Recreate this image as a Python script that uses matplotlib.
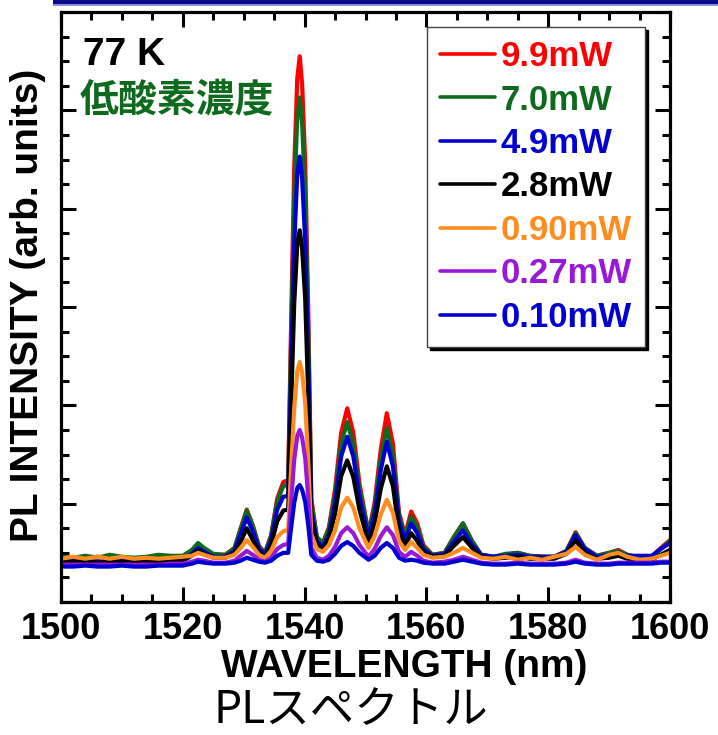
import matplotlib
matplotlib.use("Agg")
import matplotlib.pyplot as plt
from matplotlib.ticker import MultipleLocator
from matplotlib.patches import Rectangle

plt.rcParams['font.family'] = ['Liberation Sans', 'DejaVu Sans']
plt.rcParams['font.weight'] = 'bold'

# ---------------- data ----------------
wavelength = [1500, 1502, 1504, 1506, 1508, 1510, 1512, 1514, 1516, 1518, 1520,
              1521.5, 1522.5, 1523.5, 1525, 1527, 1528.5, 1529.5,
              1530.5, 1531.5, 1532.5, 1533.5, 1534.5, 1535.5, 1536.5,
              1537.3, 1537.8, 1538.3, 1538.8, 1539.2, 1539.6, 1540.1, 1540.6, 1541.1,
              1542, 1543, 1544, 1545, 1546, 1547, 1548, 1549,
              1550.5, 1551.5, 1552.5, 1553.5, 1554.5, 1555.5, 1556.5,
              1557.5, 1558.5, 1559.5, 1561, 1563,
              1564.5, 1566, 1567.5, 1569, 1571,
              1573, 1575, 1577, 1579, 1581, 1583,
              1584.5, 1586, 1588, 1590, 1591.5, 1593, 1595, 1597, 1598.5, 1600]

p9_9 = [.44, .45, .45, .46, .45, .45, .44, .45, .45, .46, .46,
        .52, .58, .54, .48, .48, .55, .75,
        .94, .78, .57, .50, .68, 1.05, 1.22,
        1.24, 2.88, 4.43, 5.33, 5.55, 5.26, 4.47, 2.96, 1.05,
        .66, .60, .76, 1.15, 1.72, 1.97, 1.72, 1.21,
        .70, 1.01, 1.55, 1.92, 1.61, .91, .68,
        .92, .80, .58, .48, .50,
        .66, .80, .62, .48, .46,
        .48, .50, .47, .46, .46, .52,
        .71, .55, .47, .50, .53, .48, .45, .46, .55, .63]

p7_0 = [.46, .45, .47, .45, .48, .46, .45, .46, .48, .47, .47,
        .53, .60, .55, .49, .48, .55, .74,
        .93, .77, .56, .50, .67, 1.02, 1.18,
        1.19, 2.69, 4.11, 4.93, 5.13, 4.86, 4.15, 2.76, 1.02,
        .66, .60, .75, 1.09, 1.61, 1.83, 1.60, 1.15,
        .70, .97, 1.45, 1.77, 1.49, .87, .67,
        .87, .76, .56, .48, .50,
        .66, .80, .62, .48, .46,
        .49, .50, .47, .46, .46, .52,
        .70, .55, .47, .50, .52, .48, .45, .46, .54, .62]

p4_9 = [.41, .42, .42, .41, .42, .42, .41, .42, .42, .42, .43,
        .49, .55, .51, .46, .46, .52, .69,
        .86, .72, .54, .48, .63, .94, 1.07,
        1.08, 2.39, 3.63, 4.36, 4.53, 4.30, 3.67, 2.46, .93,
        .62, .56, .69, 1.01, 1.48, 1.68, 1.48, 1.07,
        .66, .90, 1.34, 1.63, 1.38, .82, .63,
        .80, .70, .54, .47, .49,
        .61, .73, .58, .48, .46,
        .47, .48, .46, .46, .46, .51,
        .68, .54, .46, .48, .50, .47, .47, .47, .54, .60]

p2_8 = [.40, .41, .41, .40, .41, .41, .40, .41, .41, .42, .42,
        .47, .53, .49, .45, .45, .50, .61,
        .75, .63, .51, .46, .58, .82, .93,
        .94, 2.02, 3.04, 3.64, 3.78, 3.59, 3.08, 2.08, .84,
        .58, .54, .65, .90, 1.28, 1.44, 1.27, .94,
        .60, .80, 1.15, 1.38, 1.18, .72, .57,
        .70, .62, .51, .46, .47,
        .57, .66, .55, .46, .44,
        .45, .46, .44, .44, .44, .49,
        .63, .50, .44, .45, .47, .44, .43, .43, .48, .53]

p0_90 = [.44, .46, .44, .46, .44, .46, .44, .45, .44, .45, .46,
         .47, .50, .48, .45, .45, .48, .55,
         .63, .56, .48, .45, .52, .66, .72,
         .73, 1.38, 1.98, 2.35, 2.44, 2.33, 2.02, 1.43, .69,
         .54, .51, .58, .73, .96, 1.06, .96, .75,
         .55, .67, .89, 1.04, .91, .62, .53,
         .61, .55, .48, .45, .46,
         .50, .55, .50, .45, .44,
         .46, .43, .45, .43, .46, .49,
         .56, .48, .43, .48, .50, .46, .43, .44, .47, .50]

p0_27 = [.38, .38, .38, .38, .38, .38, .38, .38, .38, .39, .39,
         .41, .43, .42, .40, .40, .42, .47,
         .52, .48, .43, .41, .45, .54, .58,
         .59, 1.03, 1.45, 1.69, 1.75, 1.67, 1.46, 1.06, .55,
         .45, .43, .47, .56, .70, .76, .70, .58,
         .46, .54, .67, .76, .68, .51, .46,
         .51, .47, .42, .40, .41,
         .43, .46, .43, .40, .39,
         .39, .40, .39, .39, .39, .40,
         .43, .40, .39, .39, .40, .40, .40, .40, .41, .41]

p0_10 = [.36, .36, .37, .36, .36, .37, .36, .36, .37, .37, .37,
         .39, .41, .40, .39, .39, .40, .42,
         .45, .43, .41, .40, .42, .47, .50,
         .50, .76, 1.01, 1.16, 1.19, 1.14, 1.02, .78, .48,
         .42, .41, .43, .49, .57, .61, .57, .50,
         .43, .47, .55, .60, .55, .45, .42,
         .43, .42, .40, .39, .39,
         .41, .43, .41, .39, .38,
         .38, .39, .38, .38, .38, .39,
         .41, .39, .38, .38, .39, .39, .39, .39, .40, .40]

labels = ['9.9mW', '7.0mW', '4.9mW', '2.8mW', '0.90mW', '0.27mW', '0.10mW']
series = [p9_9, p7_0, p4_9, p2_8, p0_90, p0_27, p0_10]
colors = ['#ff0000', '#0e6a1c', '#0000d0', '#000000', '#ff8c1e', '#9a18d8', '#0000d0']

x_ticks = [1500, 1520, 1540, 1560, 1580, 1600]

# ---------------- figure ----------------
W, H = 718, 735
fig = plt.figure(figsize=(W / 100, H / 100), dpi=100)
L, R, T, B = 61, 670, 12, 602
ax = fig.add_axes([L / W, 1 - B / H, (R - L) / W, (B - T) / H])

for y, lab, c in zip(series, labels, colors):
    ax.plot(wavelength, y, color=c, lw=3.0, label=lab,
            solid_joinstyle='round', solid_capstyle='round')

ax.set_xlim(1500, 1600)
ax.set_ylim(0, 6)
ax.set_xticks(x_ticks)
ax.xaxis.set_minor_locator(MultipleLocator(5))
ax.yaxis.set_major_locator(MultipleLocator(1))
ax.yaxis.set_minor_locator(MultipleLocator(0.25))
ax.set_yticklabels([])
for s in ax.spines.values():
    s.set_linewidth(2.3)
ax.tick_params(which='both', direction='in', top=True, right=True, width=2.2)
ax.tick_params(which='major', length=11)
ax.tick_params(which='minor', length=5.5)
ax.tick_params(axis='x', which='major', labelsize=26, pad=7)
for t in ax.get_xticklabels():
    t.set_fontweight('bold')

leg = ax.legend(loc='upper left', bbox_to_anchor=(427 / W, 1 - 27 / H),
                bbox_transform=fig.transFigure, borderaxespad=0,
                prop={'size': 25, 'weight': 'bold'}, labelcolor='linecolor',
                handlelength=1.58, handletextpad=0.15, labelspacing=0.30,
                borderpad=0.38, fancybox=False, framealpha=1,
                shadow={'ox': 2.5, 'oy': -2.5, 'color': 'black', 'alpha': 1})
leg.get_frame().set_edgecolor('#444444')
leg.get_frame().set_linewidth(1.0)
for ln in leg.get_lines():
    ln.set_linewidth(2.6)

fig.text(83 / W, 1 - 65 / H, '77 K', fontsize=28, fontweight='bold',
         ha='left', va='baseline')
fig.text(80 / W, 1 - 112 / H, '低酸素濃度', fontsize=28, fontweight='bold',
         color='#0e6a1c', ha='left', va='baseline',
         family=['Noto Sans CJK JP', 'DejaVu Sans'])

fig.text(28 / W, 1 - 305 / H, 'PL INTENSITY (arb. units)', fontsize=28,
         fontweight='bold', rotation=90, ha='center', va='center')
fig.text(404 / W, 1 - 667 / H, 'WAVELENGTH (nm)', fontsize=28,
         fontweight='bold', ha='center', va='center')
fig.text(351 / W, 1 - 710 / H, 'PLスペクトル', fontsize=32, fontweight='normal',
         ha='center', va='center', family=['Noto Sans CJK JP', 'DejaVu Sans'])

# slide frame remnant at the top
fig.patches.append(Rectangle((53 / W, 1 - 3.5 / H), (W - 53) / W, 3.5 / H,
                             transform=fig.transFigure, color='#0a0a8c', lw=0))
fig.patches.append(Rectangle((53 / W, 1 - 5.5 / H), (W - 53) / W, 2 / H,
                             transform=fig.transFigure, color='#8c8cd8', lw=0))

fig.savefig('out.png', dpi=100)
